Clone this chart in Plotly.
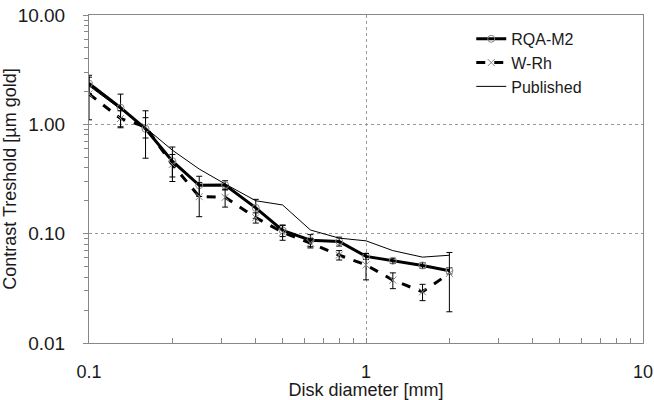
import plotly.graph_objects as go

diameter = [0.10, 0.13, 0.16, 0.20, 0.25, 0.31, 0.40, 0.50, 0.63, 0.80, 1.00, 1.25, 1.60, 2.00]
rqa_m2 = [2.36, 1.42, 0.91, 0.46, 0.277, 0.278, 0.172, 0.107, 0.087, 0.085, 0.062, 0.0565, 0.0512, 0.0458]
rqa_m2_err = [0.45, 0.47, 0.42, 0.16, 0.058, 0.027, 0.034, 0.013, 0.011, 0.008, 0.004, 0.003, 0.003, 0.003]
w_rh = [1.90, 1.13, 0.95, 0.43, 0.218, 0.215, 0.140, 0.103, 0.082, 0.0637, 0.0518, 0.0376, 0.0294, 0.0433]
w_rh_err = [0.80, 0.20, 0.20, 0.10, 0.075, 0.040, 0.015, 0.016, 0.008, 0.0063, 0.014, 0.0062, 0.005, 0.024]
published = [2.25, 1.38, 0.93, 0.58, 0.39, 0.285, 0.20, 0.183, 0.108, 0.091, 0.086, 0.070, 0.061, 0.0635]

y_tickvals = [0.01, 0.1, 1, 10]
y_ticktext = ["0.01", "0.10", "1.00", "10.00"]
x_tickvals = [0.1, 1, 10]
x_ticktext = ["0.1", "1", "10"]
y_minor = [m * d for d in (0.01, 0.1, 1) for m in range(2, 10)]
x_minor = [m * d for d in (0.1, 1) for m in range(2, 10)]

FONT = "Liberation Sans, Arial, sans-serif"
TICKC = "#888888"

fig = go.Figure()
fig.add_trace(go.Scatter(
    x=diameter, y=rqa_m2, name="RQA-M2", mode="lines+markers",
    line=dict(color="black", width=3),
    marker=dict(symbol="circle-open", size=7, color="#888888", line=dict(width=1)),
    error_y=dict(type="data", array=rqa_m2_err, color="black", thickness=1, width=3),
))
fig.add_trace(go.Scatter(
    x=diameter, y=w_rh, name="W-Rh", mode="lines+markers",
    line=dict(color="black", width=3, dash="dash"),
    marker=dict(symbol="x-thin-open", size=7, color="#888888", line=dict(width=1, color="#888888")),
    error_y=dict(type="data", array=w_rh_err, color="black", thickness=1, width=3),
))
fig.add_trace(go.Scatter(
    x=diameter, y=published, name="Published", mode="lines",
    line=dict(color="black", width=1),
))
# invisible carriers so the minor-tick overlay axes are drawn
fig.add_trace(go.Scatter(x=diameter, y=published, xaxis="x2", yaxis="y", mode="lines",
                         line=dict(width=0), opacity=0, showlegend=False, hoverinfo="skip"))
fig.add_trace(go.Scatter(x=diameter, y=published, xaxis="x", yaxis="y2", mode="lines",
                         line=dict(width=0), opacity=0, showlegend=False, hoverinfo="skip"))

fig.update_layout(
    width=654, height=400,
    margin=dict(l=89, r=11, t=15, b=57, autoexpand=False),
    paper_bgcolor="white", plot_bgcolor="white",
    font=dict(family=FONT, size=18, color="#1a1a1a"),
    showlegend=True,
    legend=dict(x=0.69, y=0.979, xanchor="left", yanchor="top",
                bgcolor="rgba(0,0,0,0)", font=dict(size=16), itemwidth=30,
                tracegroupgap=2),
    xaxis=dict(
        type="log", range=[-1, 1],
        tickvals=x_tickvals, ticktext=x_ticktext,
        ticks="inside", ticklen=5, tickcolor=TICKC,
        showgrid=True, gridcolor="#999999", griddash="dot", gridwidth=1,
        showline=True, linecolor=TICKC, linewidth=1, mirror=True,
        tickfont=dict(size=18), ticklabelstandoff=12, automargin=False,
        title=dict(text="Disk diameter [mm]", font=dict(size=18), standoff=0),
        zeroline=False,
    ),
    yaxis=dict(
        type="log", range=[-2, 1],
        tickvals=y_tickvals, ticktext=y_ticktext,
        ticks="outside", ticklen=5, tickcolor=TICKC,
        showgrid=True, gridcolor="#999999", griddash="dot", gridwidth=1,
        showline=True, linecolor=TICKC, linewidth=1, mirror=True,
        tickfont=dict(size=19), ticklabelstandoff=14, automargin=True,
        title=dict(text="Contrast Treshold [µm gold]", font=dict(size=18), standoff=0),
        zeroline=False,
    ),
    xaxis2=dict(type="log", range=[-1, 1], overlaying="x", anchor="y", side="bottom",
                tickvals=x_minor, ticks="inside", ticklen=5, tickcolor=TICKC,
                showticklabels=False, showgrid=False, showline=False, zeroline=False,
                automargin=False),
    yaxis2=dict(type="log", range=[-2, 1], overlaying="y", anchor="x", side="left",
                tickvals=y_minor, ticks="outside", ticklen=4, tickcolor=TICKC,
                showticklabels=False, showgrid=False, showline=False, zeroline=False,
                automargin=False),
)

fig.write_html("out.html", config={"displayModeBar": False},
               post_script="document.body.style.margin='0';")
